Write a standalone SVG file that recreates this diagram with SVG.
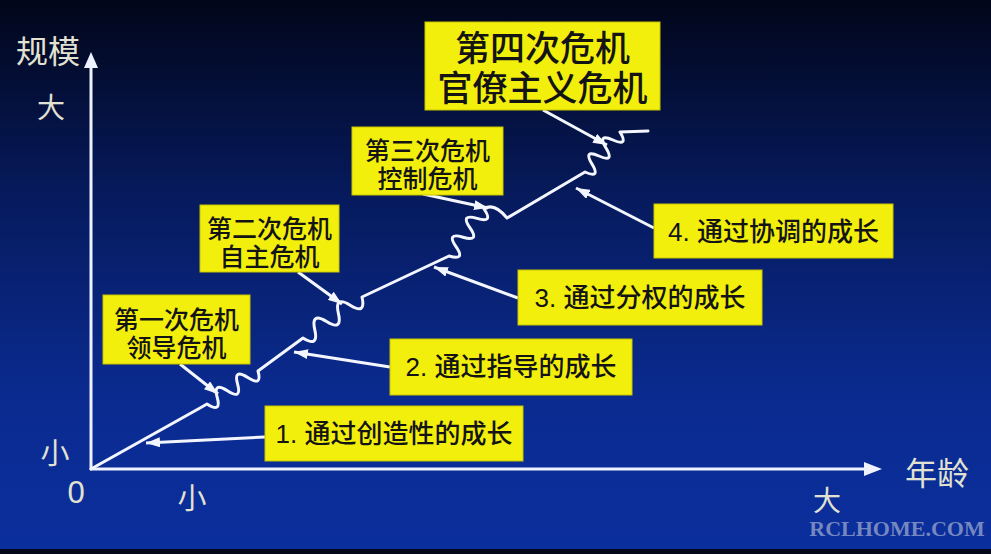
<svg xmlns="http://www.w3.org/2000/svg" width="991" height="554" viewBox="0 0 991 554">
<defs>
<linearGradient id="bg" x1="0" y1="0" x2="0" y2="1">
<stop offset="0" stop-color="#02061a"/>
<stop offset="0.35" stop-color="#061a5c"/>
<stop offset="0.7" stop-color="#0a2a8e"/>
<stop offset="1" stop-color="#0b2f9e"/>
</linearGradient>
<marker id="ah" viewBox="0 0 14 10" refX="14" refY="5" markerWidth="14" markerHeight="10" markerUnits="userSpaceOnUse" orient="auto">
<path d="M0,0 L14,5 L0,10 Z" fill="#f4f6ff"/>
</marker>
<style>
.box{fill:#f3ef0c;stroke:#c8c400;stroke-width:1}
.bt{font-family:"Liberation Sans","Noto Sans CJK SC",sans-serif;font-size:25px;font-weight:500;fill:#141414;text-anchor:middle}
.gt{font-size:26px}
.big{font-size:35px}
.ax{font-family:"Liberation Sans","Noto Sans CJK SC",sans-serif;fill:#e2e2d2;text-anchor:middle}
.axis{stroke:#eef2ff;stroke-width:3;fill:none}
.curve{stroke:#f4f6ff;stroke-width:3;fill:none;stroke-linejoin:round;stroke-linecap:round}
.arr{stroke:#f4f6ff;stroke-width:3;fill:none;marker-end:url(#ah)}
</style>
</defs>
<rect x="0" y="0" width="991" height="554" fill="url(#bg)"/>
<rect x="0" y="549" width="991" height="5" fill="#04071a"/>

<g id="axes">
<line class="axis" x1="91" y1="470" x2="91" y2="64"/>
<path d="M84,68 L98,68 L91,52 Z" fill="#eef2ff"/>
<line class="axis" x1="90" y1="469" x2="868" y2="469"/>
<path d="M864,462 L864,476 L882,469 Z" fill="#eef2ff"/>
</g>

<g id="axis-labels">
<text class="ax" x="48" y="63" font-size="32">规模</text>
<text class="ax" x="51" y="118" font-size="28">大</text>
<text class="ax" x="55" y="464" font-size="29">小</text>
<text class="ax" x="76" y="503" font-size="31">0</text>
<text class="ax" x="192" y="509" font-size="29">小</text>
<text class="ax" x="827" y="511" font-size="28">大</text>
<text class="ax" x="937" y="485" font-size="32">年龄</text>
</g>

<g id="growth-curve">
<path class="curve" d="M91,469 L200,408 L207,404 Q221.7,413.5 217.2,397.4 T227.4,390.8 T237.6,384.2 T247.8,377.6 T258,371 L303,338 Q319,348 314.8,329.8 T326.6,321.6 T338.4,313.4 T350.2,305.2 T362,297 L449,256 Q466,261 456,246.6 T463,237.2 T470,227.8 T477,218.4 T484,209 Q494,202 507,218 L585,172 Q601,179 592,164 T599,156 T606,148 T613,140 T620,132 L648,131"/>
</g>

<g id="connectors">
<line class="arr" x1="180" y1="364" x2="218" y2="394"/>
<line class="arr" x1="298" y1="272" x2="342" y2="304"/>
<line class="arr" x1="423" y1="194" x2="488" y2="208"/>
<line class="arr" x1="543" y1="110" x2="607" y2="145"/>
<line class="arr" x1="265" y1="437" x2="146" y2="443"/>
<line class="arr" x1="390" y1="367" x2="294" y2="352"/>
<line class="arr" x1="518" y1="298" x2="434" y2="267"/>
<line class="arr" x1="654" y1="228" x2="576" y2="188"/>
</g>

<g id="crisis1">
<rect class="box" x="103" y="295" width="147" height="69"/>
<text class="bt" x="176.5" y="329">第一次危机</text>
<text class="bt" x="176.5" y="357">领导危机</text>
</g>
<g id="crisis2">
<rect class="box" x="200" y="205" width="139" height="67"/>
<text class="bt" x="269.5" y="238">第二次危机</text>
<text class="bt" x="269.5" y="266">自主危机</text>
</g>
<g id="crisis3">
<rect class="box" x="352" y="127" width="151" height="68"/>
<text class="bt" x="427.5" y="160">第三次危机</text>
<text class="bt" x="427.5" y="188">控制危机</text>
</g>
<g id="crisis4">
<rect class="box" x="425" y="22" width="235" height="88"/>
<text class="bt big" x="542.5" y="61">第四次危机</text>
<text class="bt big" x="542.5" y="101">官僚主义危机</text>
</g>

<g id="growth1">
<rect class="box" x="265" y="406" width="258" height="55"/>
<text class="bt gt" x="394" y="443">1. 通过创造性的成长</text>
</g>
<g id="growth2">
<rect class="box" x="390" y="339" width="242" height="56"/>
<text class="bt gt" x="511" y="376">2. 通过指导的成长</text>
</g>
<g id="growth3">
<rect class="box" x="518" y="270" width="244" height="55"/>
<text class="bt gt" x="640" y="307">3. 通过分权的成长</text>
</g>
<g id="growth4">
<rect class="box" x="654" y="204" width="239" height="54"/>
<text class="bt gt" x="773.5" y="241">4. 通过协调的成长</text>
</g>

<text x="897" y="536" font-family="Liberation Serif,serif" font-weight="bold" font-size="22" fill="#9aa6cc" fill-opacity="0.75" text-anchor="middle">RCLHOME.COM</text>
</svg>
